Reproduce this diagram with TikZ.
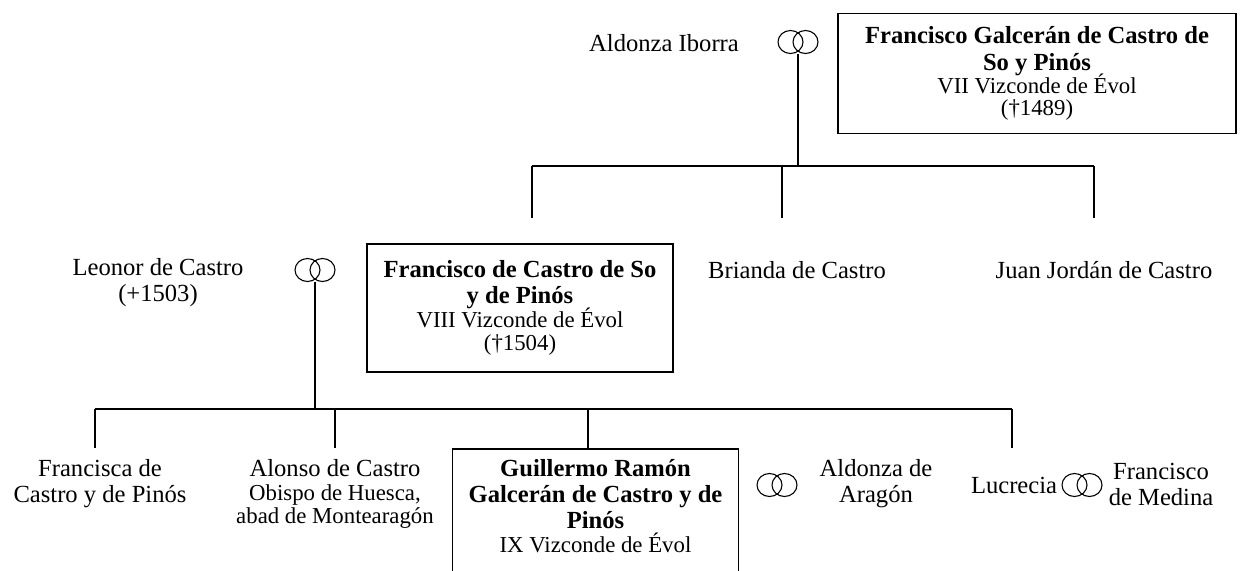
\documentclass[tikz,border=0pt]{standalone}
\usepackage{fontspec}
\setmainfont{Liberation Serif}
\newcommand\nmfont{\fontsize{24.6}{26}\selectfont}
\newcommand\sbfont{\fontsize{22.8}{23}\selectfont}
\begin{document}
\begin{tikzpicture}[x=1pt,y=-1pt,
  link/.style={line width=1.2pt},
  person/.style={align=center, font=\nmfont, inner sep=0pt},
  boxed/.style={draw, line width=1.3pt, align=center, font=\nmfont, inner xsep=0pt, inner ysep=0pt},
  boxline/.style={line width=1.3pt},
  ringnode/.style={inner sep=0pt, minimum width=40pt, minimum height=23pt},
  ringline/.style={line width=1.1pt}]
\clip (0,0) rectangle (1241,570);
% generation 1
\node[person] (aldI) at (664,43) {Aldonza Iborra};
\node[ringnode] (m1) at (798,42) {};
\draw[ringline] ([xshift=-7.5pt]m1.center) ellipse (12.5pt and 11.5pt)
                ([xshift=7.5pt]m1.center) ellipse (12.5pt and 11.5pt);
\node[boxed, minimum width=398pt, minimum height=120pt] (fg) at (1037,73.5)
  {\textbf{Francisco Galcerán de Castro de}\\[1.5pt]\textbf{So y Pinós}\\[-3pt]{\sbfont VII Vizconde de Évol}\\[-4pt]{\sbfont (†1489)}};
% connectors gen 1 -> gen 2
\coordinate (j1) at (798,166);
\coordinate (b1) at (532,166);
\coordinate (b2) at (782,166);
\coordinate (b3) at (1094,166);
\coordinate (e1) at (532,218);
\coordinate (e2) at (782,218);
\coordinate (e3) at (1094,218);
\draw[link] (m1.south) -- (j1);
\draw[link] (b1) -- (b3);
\draw[link] (b1) -- (e1);
\draw[link] (b2) -- (e2);
\draw[link] (b3) -- (e3);
% generation 2
\node[person] (leo) at (158,283) {Leonor de Castro\\(+1503)};
\node[ringnode] (m2) at (315,270) {};
\draw[ringline] ([xshift=-7.5pt]m2.center) ellipse (12.5pt and 11.5pt)
                ([xshift=7.5pt]m2.center) ellipse (12.5pt and 11.5pt);
\node[boxed, minimum width=306pt, minimum height=128pt] (fc) at (520,308)
  {\textbf{Francisco de Castro de So}\\\textbf{y de Pinós}\\[-2pt]{\sbfont VIII Vizconde de Évol}\\[-3pt]{\sbfont (†1504)}};
\node[person] (bri) at (797,270) {Brianda de Castro};
\node[person] (jua) at (1104,270) {Juan Jordán de Castro};
% connectors gen 2 -> gen 3
\coordinate (j2) at (315,409);
\coordinate (c1) at (95,409);
\coordinate (c2) at (335,409);
\coordinate (c3) at (588,409);
\coordinate (c4) at (1012,409);
\coordinate (f1) at (95,448);
\coordinate (f2) at (335,448);
\coordinate (f4) at (1012,448);
\draw[link] (m2.south) -- (j2);
\draw[link] (c1) -- (c4);
\draw[link] (c1) -- (f1);
\draw[link] (c2) -- (f2);
\draw[link] (c4) -- (f4);
% generation 3
\node[person] (fra) at (100,484) {Francisca de\\Castro y de Pinós};
\node[person, anchor=north] (alo) at (335,459) {Alonso de Castro\\[-2pt]{\sbfont Obispo de Huesca,}\\[-3pt]{\sbfont abad de Montearagón}};
\node[person, anchor=north, minimum width=285pt] (gui) at (595.5,459)
  {\textbf{Guillermo Ramón}\\\textbf{Galcerán de Castro y de}\\\textbf{Pinós}\\[-2pt]{\sbfont IX Vizconde de Évol}};
\draw[boxline] ([yshift=10pt]gui.north west) rectangle ([yshift=-40pt]gui.south east);
\draw[link] (c3) -- ([yshift=10pt]gui.north -| c3);
\node[ringnode] (m3) at (777,485) {};
\draw[ringline] ([xshift=-7.5pt]m3.center) ellipse (12.5pt and 11.5pt)
                ([xshift=7.5pt]m3.center) ellipse (12.5pt and 11.5pt);
\node[person] (ald2) at (876,484) {Aldonza de\\Aragón};
\node[person] (luc) at (1014,485) {Lucrecia};
\node[ringnode] (m4) at (1082,485) {};
\draw[ringline] ([xshift=-7.5pt]m4.center) ellipse (12.5pt and 11.5pt)
                ([xshift=7.5pt]m4.center) ellipse (12.5pt and 11.5pt);
\node[person] (med) at (1161,484) {Francisco\\de Medina};
\end{tikzpicture}
\end{document}
